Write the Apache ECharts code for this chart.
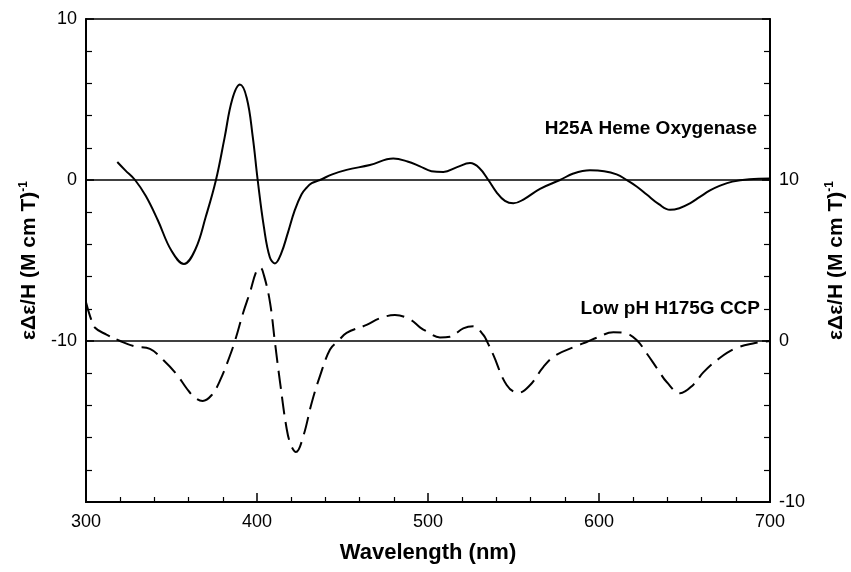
<!DOCTYPE html>
<html>
<head>
<meta charset="utf-8">
<script src="https://cdn.jsdelivr.net/npm/echarts@6/dist/echarts.min.js"></script>
<style>
html,body{margin:0;padding:0;background:#fff;}
#c{width:851px;height:572px;}
</style>
</head>
<body>
<div id="c"></div>
<script>
// Wavelength ticks
const xTicks = [300, 400, 500, 600, 700];
const leftTicks = [-10, 0, 10];
const rightTicks = [-10, 0, 10];

// H25A Heme Oxygenase (left axis), [wavelength nm, value]
const hemeOxygenase = [
  [318.3,1.12],[323,0.6],[328.7,0],[335,-1.0],[342,-2.5],[350,-4.4],[357.3,-5.21],[364,-4.3],[370,-2.3],
  [376,0],[381,2.6],[385.5,5.0],[390,5.93],[394,5.1],[397.5,2.7],[400.4,0],[404,-2.9],[407.5,-4.8],
  [410.5,-5.18],[414,-4.6],[418,-3.3],[422,-1.9],[426,-0.9],[429,-0.48],[432,-0.2],[436.8,0],[444,0.35],
  [452.4,0.63],[466,0.93],[479.7,1.33],[488,1.15],[495.3,0.85],[502,0.55],[509,0.5],[517,0.8],[524.6,1.05],
  [530,0.75],[535.3,0],[540,-0.75],[545,-1.3],[549.9,-1.45],[556,-1.2],[565.5,-0.55],[577.2,0],[585,0.4],
  [594.7,0.6],[603,0.55],[610.3,0.35],[616.2,0],[622,-0.4],[627.9,-0.9],[635,-1.5],[641.5,-1.85],[647,-1.75],
  [653.2,-1.45],[659,-1.05],[664.9,-0.65],[670.8,-0.35],[678,-0.1],[688,0.05],[700,0.1]
];

// Low pH H175G CCP (right axis)
const ccpLowPH = [
  [300,2.4],[302.5,1.5],[305.3,0.82],[312,0.4],[320,0],[328.7,-0.34],[337.4,-0.49],[345.2,-1.18],[353,-2.07],
  [358.9,-2.95],[363.5,-3.5],[368.2,-3.72],[373.4,-3.37],[378.4,-2.45],[384.2,-0.9],[387.1,0],[392,1.79],
  [395.9,3.03],[399.8,4.37],[401.9,4.55],[404.1,4.06],[407.6,2.4],[410.5,-0.09],[413.5,-2.58],[417.4,-5.48],
  [420,-6.5],[422.8,-6.89],[427.1,-5.9],[432,-3.83],[436.8,-2.18],[442.7,-0.53],[447.5,0],[452.4,0.5],
  [464.1,1.0],[471.9,1.41],[480.7,1.61],[489.5,1.34],[495.3,0.85],[499.2,0.6],[507,0.22],[512.9,0.27],
  [520.6,0.78],[526.5,0.91],[532.3,0.39],[534.7,-0.07],[538.2,-0.86],[546,-2.73],[552.8,-3.22],[559.6,-2.75],
  [567.4,-1.62],[574.3,-0.91],[587,-0.3],[592.8,-0.06],[598.6,0.2],[608.4,0.54],[615.2,0.49],[622,0.06],
  [627.9,-0.77],[634.7,-1.82],[639.6,-2.55],[647.4,-3.24],[655.2,-2.71],[661,-1.95],[670.8,-1.04],
  [680,-0.45],[690,-0.15],[700,0]
];

const FONT = '"Liberation Sans", Arial, Helvetica, sans-serif';
const chart = echarts.init(document.getElementById('c'), null, {renderer: 'canvas'});

const yName = '{a|εΔε/H (M cm T)}{s|-1}';
const yRich = {
  a: {fontFamily: FONT, fontWeight: 'bold', fontSize: 21, color: '#000', lineHeight: 24},
  s: {fontFamily: FONT, fontWeight: 'bold', fontSize: 12, color: '#000', verticalAlign: 'top', lineHeight: 24, padding: [0,0,10,0]}
};

chart.setOption({
  animation: false,
  backgroundColor: '#fff',
  grid: {left: 86, right: 81, top: 19, bottom: 70, containLabel: false, outerBoundsMode: 'none',
    show: true, borderColor: '#000', borderWidth: 1.5, backgroundColor: 'transparent'},
  xAxis: {
    type: 'value', min: xTicks[0], max: xTicks[xTicks.length-1], interval: 100,
    name: 'Wavelength (nm)', nameLocation: 'middle', nameGap: 40,
    nameTextStyle: {fontFamily: FONT, fontWeight: 'bold', fontSize: 22, color: '#000'},
    axisLine: {show: true, onZero: false, lineStyle: {color: '#000', width: 2}},
    axisTick: {show: true, inside: true, length: 9, lineStyle: {color: '#000', width: 1.5}},
    minorTick: {show: true, splitNumber: 5, length: 5, lineStyle: {color: '#000', width: 1.2}},
    splitLine: {show: false},
    axisLabel: {fontFamily: FONT, fontSize: 18, color: '#000', margin: 11}
  },
  yAxis: [
    {
      type: 'value', position: 'left', min: -20, max: 10, interval: 10,
      name: yName, nameLocation: 'middle', nameGap: 34, nameRotate: 90,
      nameTextStyle: {rich: yRich},
      axisLine: {show: true, onZero: false, lineStyle: {color: '#000', width: 2}},
      axisTick: {show: true, inside: true, length: 8, lineStyle: {color: '#000', width: 1.5}},
      minorTick: {show: true, splitNumber: 5, length: 6, lineStyle: {color: '#000', width: 1.2}},
      splitLine: {show: false},
      axisLabel: {fontFamily: FONT, fontSize: 18, color: '#000', margin: 9,
        formatter: v => leftTicks.indexOf(v) >= 0 ? String(v) : ''}
    },
    {
      type: 'value', position: 'right', min: -10, max: 20, interval: 10,
      name: yName, nameLocation: 'middle', nameGap: 54, nameRotate: 90,
      nameTextStyle: {rich: yRich},
      axisLine: {show: true, onZero: false, lineStyle: {color: '#000', width: 2}},
      axisTick: {show: true, inside: true, length: 8, lineStyle: {color: '#000', width: 1.5}},
      minorTick: {show: true, splitNumber: 5, length: 6, lineStyle: {color: '#000', width: 1.2}},
      splitLine: {show: false},
      axisLabel: {fontFamily: FONT, fontSize: 18, color: '#000', margin: 9,
        formatter: v => rightTicks.indexOf(v) >= 0 ? String(v) : ''}
    }
  ],
  series: [
    {
      name: 'H25A Heme Oxygenase', type: 'line', yAxisIndex: 0, data: hemeOxygenase,
      smooth: 0.4, showSymbol: false, symbol: 'none',
      lineStyle: {color: '#000', width: 2},
      markLine: {silent: true, symbol: 'none', label: {show: false},
        lineStyle: {color: '#000', width: 1.6, type: 'solid'},
        data: [[{coord: [300, 0]}, {coord: [700, 0]}]]}
    },
    {
      name: 'Low pH H175G CCP', type: 'line', yAxisIndex: 1, data: ccpLowPH,
      smooth: 0.4, showSymbol: false, symbol: 'none',
      lineStyle: {color: '#000', width: 2, type: [18, 8]},
      markLine: {silent: true, symbol: 'none', label: {show: false},
        lineStyle: {color: '#000', width: 1.6, type: 'solid'},
        data: [[{coord: [300, 0]}, {coord: [700, 0]}]]}
    }
  ],
  graphic: [
    {type: 'text', right: 94, top: 119, style: {text: 'H25A Heme Oxygenase', font: 'bold 19px ' + FONT, fill: '#000'}},
    {type: 'text', right: 91, top: 299, style: {text: 'Low pH H175G CCP', font: 'bold 19px ' + FONT, fill: '#000'}}
  ]
});
</script>
</body>
</html>
